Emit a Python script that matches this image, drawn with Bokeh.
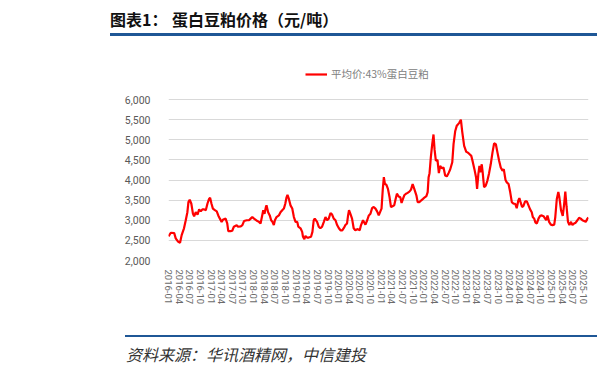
import pandas as pd
from bokeh.plotting import figure
from bokeh.layouts import column
from bokeh.models import (Range1d, FixedTicker, DatetimeTickFormatter, NumeralTickFormatter,
                          Legend, LegendItem, Div)
from bokeh.embed import file_html
from bokeh.resources import INLINE

# ---------------- data ----------------
dates = [
    "2016-01-01", "2016-01-21", "2016-02-19", "2016-03-03", "2016-03-23", "2016-04-09", "2016-04-23",
    "2016-05-13", "2016-05-28", "2016-06-11", "2016-06-20", "2016-07-01", "2016-07-15", "2016-07-29",
    "2016-08-08", "2016-08-22", "2016-09-06", "2016-09-20", "2016-10-04", "2016-10-18", "2016-11-02",
    "2016-11-16", "2016-11-30", "2016-12-14", "2016-12-23", "2017-01-04", "2017-01-16", "2017-02-02",
    "2017-02-18", "2017-03-03", "2017-03-17", "2017-04-01", "2017-04-15", "2017-05-05", "2017-05-19",
    "2017-05-28", "2017-06-17", "2017-07-01", "2017-07-15", "2017-08-08", "2017-08-19", "2017-09-12",
    "2017-09-26", "2017-10-10", "2017-11-02", "2017-11-22", "2017-12-06", "2017-12-20", "2018-01-04",
    "2018-02-02", "2018-02-15", "2018-03-01", "2018-03-15", "2018-03-24", "2018-04-04", "2018-04-16",
    "2018-04-21", "2018-05-05", "2018-05-19", "2018-05-31", "2018-06-11", "2018-06-23", "2018-07-02",
    "2018-07-16", "2018-08-05", "2018-08-19", "2018-09-03", "2018-09-17", "2018-09-29", "2018-10-10",
    "2018-10-18", "2018-10-30", "2018-11-13", "2018-11-28", "2018-12-12", "2018-12-26", "2019-01-10",
    "2019-01-19", "2019-02-07", "2019-02-21", "2019-02-28", "2019-03-12", "2019-03-21", "2019-04-04",
    "2019-04-18", "2019-05-08", "2019-05-20", "2019-05-31", "2019-06-09", "2019-06-29", "2019-07-13",
    "2019-07-27", "2019-08-11", "2019-08-26", "2019-09-09", "2019-09-23", "2019-10-07", "2019-10-22",
    "2019-11-05", "2019-11-19", "2019-12-04", "2019-12-18", "2020-01-02", "2020-01-16", "2020-01-31",
    "2020-02-14", "2020-02-27", "2020-03-12", "2020-03-21", "2020-03-29", "2020-04-10", "2020-04-24",
    "2020-05-08", "2020-05-22", "2020-06-12", "2020-06-29", "2020-07-10", "2020-07-27", "2020-08-17",
    "2020-09-01", "2020-09-15", "2020-09-29", "2020-10-13", "2020-10-27", "2020-11-11", "2020-11-25",
    "2020-12-09", "2020-12-23", "2021-01-02", "2021-01-13", "2021-01-22", "2021-01-31", "2021-02-13",
    "2021-02-26", "2021-03-12", "2021-03-24", "2021-04-07", "2021-04-21", "2021-05-03", "2021-05-14",
    "2021-05-29", "2021-06-12", "2021-06-23", "2021-07-05", "2021-07-16", "2021-07-31", "2021-08-14",
    "2021-08-29", "2021-09-12", "2021-09-26", "2021-10-10", "2021-10-28", "2021-11-08", "2021-11-22",
    "2021-12-07", "2021-12-24", "2022-01-08", "2022-01-22", "2022-02-02", "2022-02-10", "2022-02-18",
    "2022-03-01", "2022-03-13", "2022-03-24", "2022-04-02", "2022-04-13", "2022-04-27", "2022-05-09",
    "2022-05-20", "2022-06-04", "2022-06-18", "2022-07-02", "2022-07-16", "2022-07-31", "2022-08-14",
    "2022-09-01", "2022-09-12", "2022-09-26", "2022-10-10", "2022-10-31", "2022-11-14", "2022-11-25",
    "2022-12-12", "2022-12-30", "2023-01-13", "2023-01-28", "2023-02-11", "2023-02-24", "2023-03-10",
    "2023-03-24", "2023-04-02", "2023-04-13", "2023-04-22", "2023-04-30", "2023-05-12", "2023-05-20",
    "2023-06-01", "2023-06-15", "2023-06-29", "2023-07-14", "2023-07-28", "2023-08-12", "2023-08-26",
    "2023-09-10", "2023-09-24", "2023-10-08", "2023-10-22", "2023-11-06", "2023-11-17", "2023-12-02",
    "2023-12-13", "2023-12-28", "2024-01-11", "2024-01-25", "2024-02-09", "2024-02-23", "2024-03-07",
    "2024-03-21", "2024-03-30", "2024-04-11", "2024-04-22", "2024-05-03", "2024-05-18", "2024-06-02",
    "2024-06-16", "2024-06-30", "2024-07-14", "2024-07-23", "2024-08-04", "2024-08-15", "2024-08-27",
    "2024-09-10", "2024-09-24", "2024-10-08", "2024-10-23", "2024-11-06", "2024-11-15", "2024-11-26",
    "2024-12-10", "2024-12-25", "2025-01-08", "2025-01-23", "2025-02-01", "2025-02-14", "2025-02-27",
    "2025-03-08", "2025-03-22", "2025-04-06", "2025-04-17", "2025-04-28", "2025-05-09", "2025-05-21",
    "2025-06-02", "2025-06-16", "2025-06-28", "2025-07-12", "2025-07-26", "2025-08-10", "2025-08-24",
    "2025-09-08", "2025-09-22", "2025-10-06", "2025-10-20", "2025-11-04", "2025-11-12",
]
prices = [
    2600, 2690, 2680, 2550, 2470, 2440, 2630,
    2800, 3000, 3200, 3450, 3510, 3410, 3160,
    3100, 3200, 3140, 3270, 3220, 3270, 3270,
    3250, 3410, 3530, 3560, 3410, 3290, 3250,
    3220, 3120, 3040, 2960, 3020, 3040, 2920,
    2730, 2730, 2740, 2840, 2880, 2840, 2850,
    2880, 2980, 3000, 3000, 3040, 3080, 3040,
    2980, 2960, 2920, 3120, 3250, 3160, 3330,
    3370, 3200, 3120, 3000, 2960, 2880, 3000,
    3080, 3120, 3200, 3250, 3290, 3410, 3570,
    3630, 3530, 3370, 3290, 3080, 2960, 2960,
    2840, 2800, 2710, 2590, 2530, 2610, 2570,
    2570, 2590, 2710, 3000, 3040, 2960, 2840,
    2800, 2840, 2960, 3080, 3000, 3040, 3180,
    3140, 3040, 3000, 2880, 2800, 2750, 2750,
    2810, 2880, 2920, 3120, 3250, 3160, 3040,
    2800, 2750, 2780, 2750, 2880, 3000, 2890,
    3000, 3120, 3160, 3300, 3330, 3290, 3220,
    3120, 3220, 3290, 3780, 4070, 3900, 3880,
    3780, 3570, 3330, 3350, 3370, 3530, 3660,
    3590, 3570, 3430, 3530, 3620, 3660, 3680,
    3710, 3760, 3900, 3780, 3620, 3450, 3450,
    3490, 3530, 3570, 3600, 3700, 4070, 4170,
    4560, 4890, 5130, 4760, 4480, 4500, 4170,
    4350, 4290, 4310, 4110, 4090, 4170, 4260,
    4440, 4890, 5210, 5350, 5420, 5500, 5210,
    4850, 4700, 4680, 4640, 4600, 4450, 4270,
    4070, 3780, 4150, 4350, 4190, 4390, 4190,
    3820, 3860, 3980, 4170, 4390, 4680, 4910,
    4890, 4680, 4480, 4310, 4230, 4270, 4000,
    3940, 3900, 3700, 3450, 3410, 3410, 3300,
    3490, 3550, 3430, 3330, 3350, 3470, 3470,
    3370, 3270, 3200, 3080, 3040, 2940, 2920,
    3040, 3110, 3120, 3100, 3040, 3000, 3120,
    2960, 2890, 2880, 2890, 3080, 3530, 3700,
    3570, 3250, 3110, 3370, 3710, 3330, 2960,
    2880, 2960, 2880, 2920, 2940, 3000, 3060,
    3040, 3000, 2980, 2960, 3040, 3070,
]
quarter_labels = [f"{y}-{m:02d}" for y in range(2016, 2026) for m in (1, 4, 7, 10)]
y_ticks = [2000, 2500, 3000, 3500, 4000, 4500, 5000, 5500, 6000]
series_name = "平均价:43%蛋白豆粕"
title_prefix = "图表1："
title_text = "蛋白豆粕价格（元/吨）"
source_text = "资料来源：华讯酒精网，中信建投"

# ---------------- styling ----------------
BLUE = "#1f5796"
GRAY = "#595959"
W = 597

# ---------------- title block ----------------
title_html = f"""
<div style="position:relative;width:{W}px;height:38px;background:white;">
  <span style="position:absolute;left:110px;top:11px;line-height:16px;white-space:nowrap;
        font-family:'Noto Sans CJK SC';font-weight:bold;font-size:16px;color:#111111;">{title_prefix}</span>
  <span style="position:absolute;left:172px;top:11px;line-height:16px;white-space:nowrap;
        font-family:'Noto Sans CJK SC';font-weight:bold;font-size:16px;color:#111111;">{title_text}</span>
  <div style="position:absolute;left:110px;top:33px;width:{W - 110}px;height:3px;background:{BLUE};"></div>
</div>
"""
title_div = Div(text=title_html, width=W, height=38, margin=(0, 0, 0, 0))

# ---------------- chart ----------------
x = pd.to_datetime(dates)
tick_pos = [pd.Timestamp(q + "-01").value / 1e6 for q in quarter_labels]

p = figure(width=W, height=292, output_backend="svg", toolbar_location=None,
           x_axis_type="datetime",
           x_range=Range1d(pd.Timestamp("2016-01-01"), pd.Timestamp("2025-11-13")),
           y_range=Range1d(2000, 6969),
           min_border_left=168, min_border_right=9, min_border_top=22, min_border_bottom=70,
           margin=(0, 0, 0, 0))
p.outline_line_color = None
p.background_fill_color = "white"
p.border_fill_color = "white"

r = p.line(x, prices, line_color="#ff0000", line_width=2.2)

p.yaxis.ticker = FixedTicker(ticks=y_ticks)
p.yaxis.formatter = NumeralTickFormatter(format="0,0")
p.yaxis.axis_line_color = None
p.yaxis.major_tick_line_color = None
p.yaxis.minor_tick_line_color = None
p.yaxis.major_label_standoff = 12
p.yaxis.major_label_text_font = "Roboto"
p.yaxis.major_label_text_font_size = "10.5px"
p.yaxis.major_label_text_color = GRAY

p.xaxis.ticker = FixedTicker(ticks=tick_pos)
p.xaxis.formatter = DatetimeTickFormatter(days="%Y-%m", months="%Y-%m", years="%Y-%m",
                                          hours="%Y-%m", minutes="%Y-%m")
p.xaxis.major_label_orientation = "vertical"
p.xaxis.axis_line_color = None
p.xaxis.major_tick_line_color = None
p.xaxis.minor_tick_line_color = None
p.xaxis.major_label_standoff = 3
p.xaxis.major_label_text_font = "Roboto"
p.xaxis.major_label_text_font_size = "9.5px"
p.xaxis.major_label_text_color = "#6b6b6b"

p.xgrid.grid_line_color = None
p.ygrid.ticker = FixedTicker(ticks=y_ticks)
p.ygrid.grid_line_color = "#d9d9d9"
p.ygrid.grid_line_width = 1

legend = Legend(items=[LegendItem(label=series_name, renderers=[r])], location=(137, 179),
                orientation="horizontal", padding=0, margin=0, border_line_color=None,
                background_fill_alpha=0, glyph_width=22, glyph_height=12, label_standoff=4,
                label_text_font="Noto Sans CJK SC", label_text_font_size="10.5px",
                label_text_color="#808080", label_height=12)
p.add_layout(legend)

# ---------------- source block ----------------
source_html = f"""
<div style="position:relative;width:{W}px;height:43px;background:white;">
  <div style="position:absolute;left:125px;top:5px;width:{W - 125}px;height:2px;background:{BLUE};"></div>
  <span style="position:absolute;left:126px;top:16px;line-height:16px;white-space:nowrap;
        font-family:'Noto Sans CJK SC';font-style:italic;font-size:16px;color:#333333;">{source_text}</span>
</div>
"""
source_div = Div(text=source_html, width=W, height=43, margin=(0, 0, 0, 0))

page = column(title_div, p, source_div, spacing=0, margin=(0, 0, 0, 0))

open("out.html", "w").write(file_html(page, INLINE))
